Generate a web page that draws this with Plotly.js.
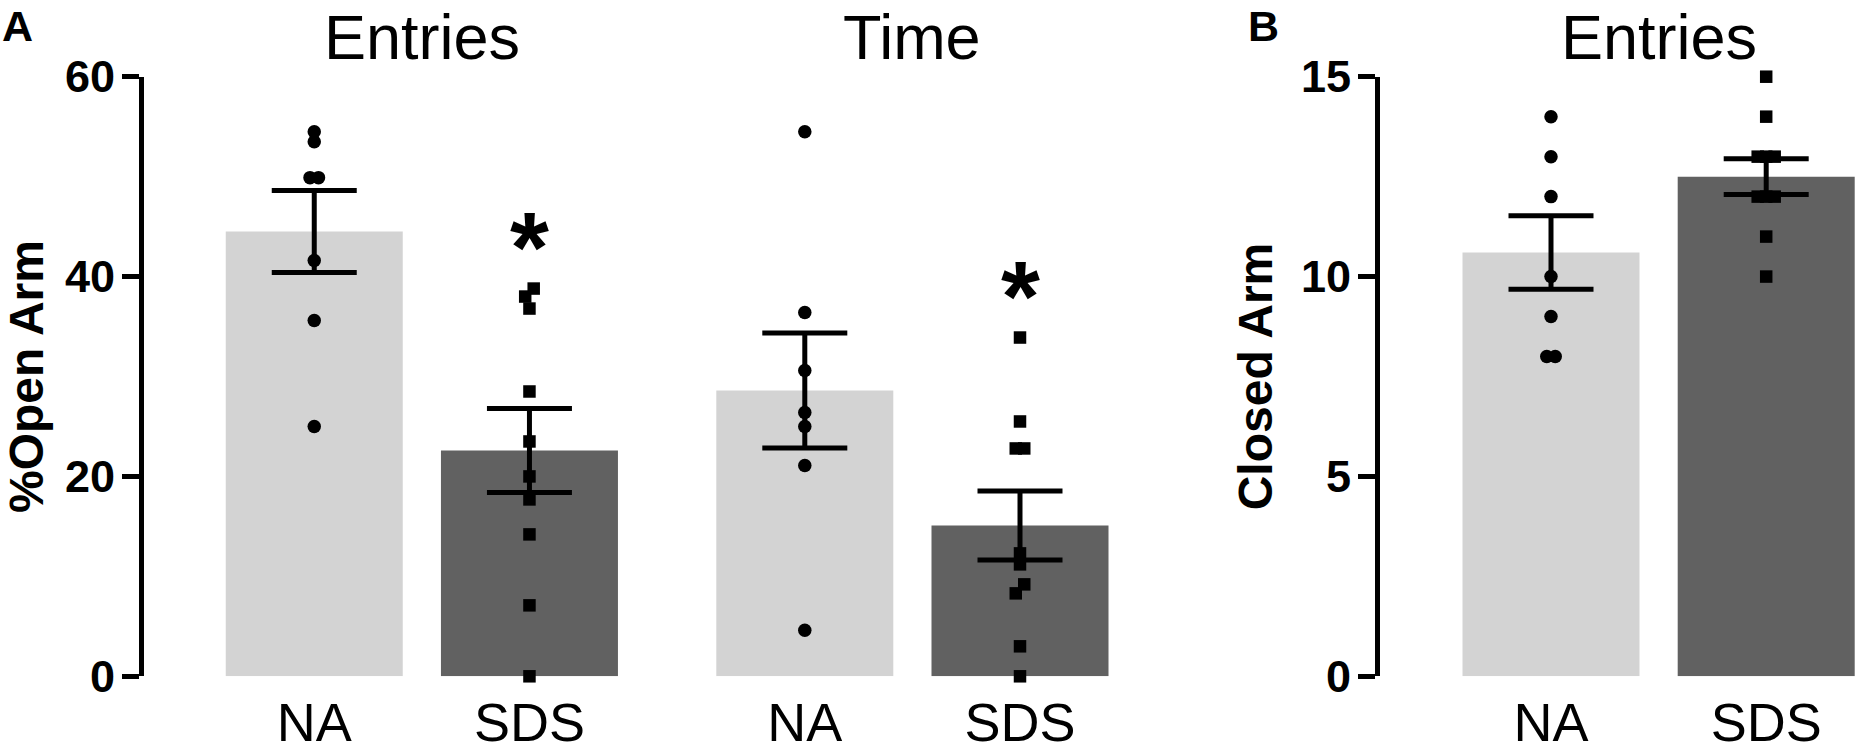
<!DOCTYPE html>
<html><head><meta charset="utf-8">
<script src="https://cdn.plot.ly/plotly-3.0.1.min.js"></script>
<style>html,body{margin:0;padding:0;background:#fff}#chart{width:1858px;height:752px}</style>
</head><body><div id="chart"></div>
<script>
// ---------- data ----------
const groups = ["NA", "SDS"];
const panelTitles = ["Entries", "Time", "Entries"];
const panelLetters = ["A", "B"];
const yTitleA = "%Open Arm";
const yTitleB = "Closed Arm";
const yTicksA = [0, 20, 40, 60];
const yTicksB = [0, 5, 10, 15];

const entriesMean = [44.5, 22.6];
const entriesSem  = [4.1, 4.2];
const entriesNA   = [54.5, 53.5, 49.9, 49.9, 41.6, 35.6, 25.0];
const entriesSDS  = [38.8, 38.0, 36.8, 28.5, 23.5, 20.0, 17.7, 14.2, 7.1, 0];

const timeMean = [28.6, 15.1];
const timeSem  = [5.75, 3.45];
const timeNA   = [54.5, 36.4, 30.6, 26.4, 25.0, 21.1, 4.6];
const timeSDS  = [33.9, 25.5, 22.8, 22.8, 12.3, 11.2, 9.2, 8.3, 3.0, 0];

const closedMean = [10.6, 12.5];
const closedSem  = [0.92, 0.45];
const closedNA   = [14, 13, 12, 10, 9, 8, 8];
const closedSDS  = [15, 14, 13, 13, 13, 12, 12, 12, 11, 10];

const significant = [[false, true], [false, true], [false, false]];

// ---------- styling / layout ----------
const W = 1858, H = 752;
const FONT = "Liberation Sans, Arial, Helvetica, sans-serif";
const barColors = ["#d3d3d3", "#616161"];
const symbols = ["circle", "square"];
const markerSizes = [13.5, 12.5];
const fx = px => px / W;
const fy = px => 1 - px / H;

const yTop = 76.7, yBot = 676.3;
const unitPx = 215.2;           // px per category step
const barWidth = 177 / unitPx;

// panel x geometry (px)
const panels = [
  {xa: "x",  ya: "y",  axisStart: 144,    c0: 314.25, end: 314.25 + 1.5 * unitPx, range: [0, 60]},
  {xa: "x2", ya: "y",  axisStart: null,   c0: 804.8,  end: 804.8 + 1.5 * unitPx,  range: [0, 60]},
  {xa: "x3", ya: "y2", axisStart: 1380,   c0: 1551,   end: 1858,                  range: [0, 15]}
];
const panelData = [
  {mean: entriesMean, sem: entriesSem, pts: [entriesNA, entriesSDS]},
  {mean: timeMean,    sem: timeSem,    pts: [timeNA, timeSDS]},
  {mean: closedMean,  sem: closedSem,  pts: [closedNA, closedSDS]}
];

const STEP_PX = 8.5, THRESH_PX = 9.5;
function jitter(vals, yPxPerUnit) {
  const idx = vals.map((v, i) => i).sort((a, b) => vals[a] - vals[b]);
  const off = new Array(vals.length).fill(0);
  let cluster = [idx[0]];
  const flush = () => {
    const n = cluster.length;
    cluster.forEach((k, j) => { off[k] = (j - (n - 1) / 2) * STEP_PX / unitPx; });
  };
  for (let i = 1; i < idx.length; i++) {
    if ((vals[idx[i]] - vals[idx[i - 1]]) * yPxPerUnit < THRESH_PX) cluster.push(idx[i]);
    else { flush(); cluster = [idx[i]]; }
  }
  flush();
  return off;
}

const traces = [];
const annotations = [];
const layout = {
  width: W, height: H,
  margin: {l: 0, r: 0, t: 0, b: 0},
  paper_bgcolor: "#fff", plot_bgcolor: "rgba(0,0,0,0)",
  showlegend: false,
  font: {family: FONT, color: "#000"},
  annotations: annotations
};

panels.forEach((p, pi) => {
  const d = panelData[pi];
  const yPxPerUnit = (yBot - yTop) / (p.range[1] - p.range[0]);
  const start = p.axisStart !== null ? p.axisStart : p.c0 - 0.5 * unitPx;
  const axName = "xaxis" + (pi === 0 ? "" : (pi + 1));
  layout[axName] = {
    domain: [fx(start), fx(p.end)],
    range: [-(p.c0 - start) / unitPx, (p.end - p.c0) / unitPx],
    anchor: p.ya,
    tickvals: [0, 1], ticktext: groups,
    showline: false, showgrid: false, zeroline: false, ticks: "",
    tickfont: {family: FONT, size: 54, color: "#000"},
    ticklabelstandoff: 10,
    fixedrange: true
  };
  // bars
  traces.push({
    type: "bar", x: [0, 1], y: d.mean, width: barWidth,
    xaxis: p.xa, yaxis: p.ya,
    marker: {color: barColors, line: {width: 0}},
    error_y: {type: "data", array: d.sem, visible: true, color: "#000", thickness: 5, width: 42.5},
    hoverinfo: "skip"
  });
  // points
  d.pts.forEach((vals, gi) => {
    const off = jitter(vals, yPxPerUnit);
    traces.push({
      type: "scatter", mode: "markers",
      x: vals.map((v, i) => gi + off[i]), y: vals,
      xaxis: p.xa, yaxis: p.ya, cliponaxis: false,
      marker: {symbol: symbols[gi], size: markerSizes[gi], color: "#000", line: {width: 0}},
      hoverinfo: "y"
    });
    if (significant[pi][gi]) {
      annotations.push({
        xref: p.xa, yref: p.ya, x: gi, y: Math.max(...vals) + 5.4 * (p.range[1] / 60),
        text: "*", showarrow: false, xanchor: "center", yanchor: "middle", yshift: -12,
        font: {family: FONT, size: 100, weight: "bold", color: "#000"}
      });
    }
  });
  // panel title
  annotations.push({
    xref: "paper", yref: "paper", x: fx(p.c0 + 0.5 * unitPx), y: fy(0.5),
    xanchor: "center", yanchor: "top", borderpad: 0, showarrow: false, text: panelTitles[pi],
    font: {family: FONT, size: 63, color: "#000"}
  });
});

const yCommon = {
  domain: [fy(yBot), fy(yTop)],
  showline: true, linewidth: 5, linecolor: "#000",
  ticks: "outside", ticklen: 17, tickwidth: 5, tickcolor: "#000",
  showgrid: false, zeroline: false, fixedrange: true,
  tickfont: {family: FONT, size: 45, weight: "bold", color: "#000"},
  ticklabelstandoff: -2
};
layout.yaxis = Object.assign({}, yCommon, {
  range: [0, 60], tickvals: yTicksA, anchor: "x",
  title: {text: yTitleA, standoff: 18, font: {family: FONT, size: 48, weight: "bold", color: "#000"}}
});
layout.yaxis2 = Object.assign({}, yCommon, {
  range: [0, 15], tickvals: yTicksB, anchor: "x3",
  title: {text: yTitleB, standoff: 15, font: {family: FONT, size: 48, weight: "bold", color: "#000"}}
});

// panel letters
annotations.push({xref: "paper", yref: "paper", x: fx(0), y: fy(0), xanchor: "left", yanchor: "top",
  showarrow: false, text: "<b>" + panelLetters[0] + "</b>", font: {family: FONT, size: 43, color: "#000"}});
annotations.push({xref: "paper", yref: "paper", x: fx(1246), y: fy(0), xanchor: "left", yanchor: "top",
  showarrow: false, text: "<b>" + panelLetters[1] + "</b>", font: {family: FONT, size: 43, color: "#000"}});

Plotly.newPlot("chart", traces, layout, {displayModeBar: false, staticPlot: true});
</script>
</body></html>
